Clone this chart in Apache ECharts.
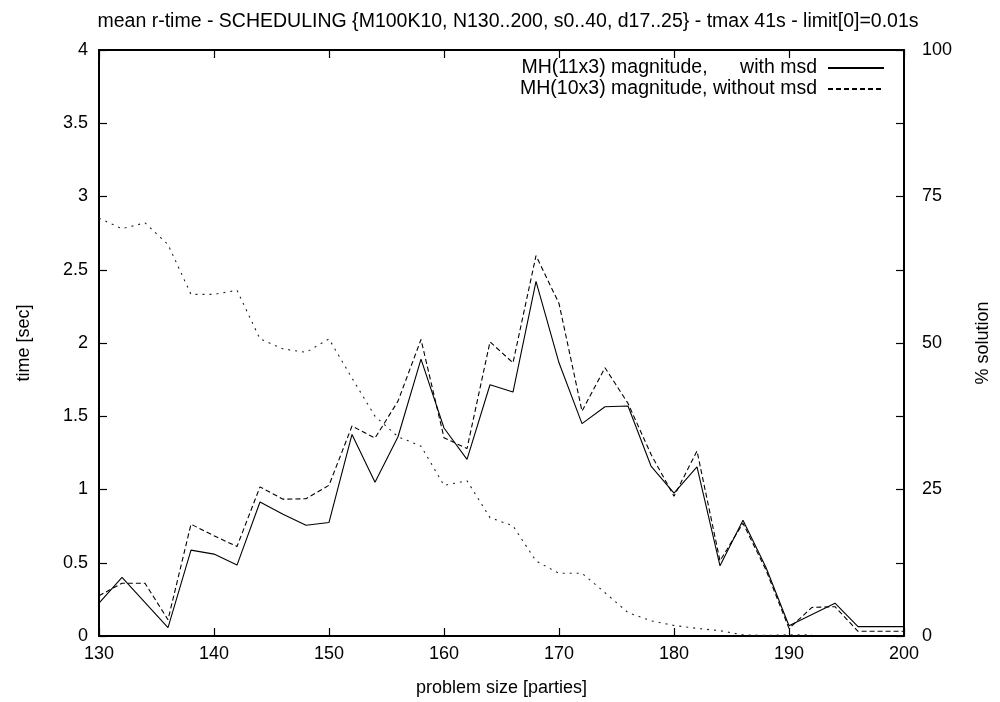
<!DOCTYPE html>
<html>
<head>
<meta charset="utf-8">
<script src="https://cdn.jsdelivr.net/npm/echarts@6/dist/echarts.min.js"></script>
<style>
  html, body { margin: 0; padding: 0; background: #fff; }
  #chart { width: 1000px; height: 702px; }
</style>
</head>
<body>
<div id="chart"></div>
<script>
// Problem sizes (parties) and mean run times for each heuristic
const sizesWithMsd = [130, 132, 136, 138, 140, 142, 144, 146, 148, 150, 152, 154, 156, 158, 160, 162, 164, 166, 168, 170, 172, 174, 176, 178, 180, 182, 184, 186, 188, 190, 194, 196, 200];
const timeWithMsd = [0.225, 0.40, 0.057, 0.586, 0.559, 0.484, 0.915, 0.831, 0.756, 0.775, 1.376, 1.05, 1.36, 1.89, 1.42, 1.206, 1.715, 1.665, 2.42, 1.865, 1.45, 1.565, 1.57, 1.16, 0.975, 1.154, 0.479, 0.79, 0.468, 0.07, 0.224, 0.064, 0.064];

const sizesWithoutMsd = [130, 132, 134, 136, 138, 140, 142, 144, 146, 148, 150, 152, 154, 156, 158, 160, 162, 164, 166, 168, 170, 172, 174, 176, 178, 180, 182, 184, 186, 188, 190, 192, 194, 196, 200];
const timeWithoutMsd = [0.275, 0.36, 0.36, 0.111, 0.763, 0.684, 0.611, 1.018, 0.934, 0.937, 1.029, 1.433, 1.351, 1.603, 2.024, 1.354, 1.279, 2.008, 1.865, 2.596, 2.27, 1.535, 1.831, 1.588, 1.24, 0.954, 1.263, 0.513, 0.77, 0.45, 0.052, 0.195, 0.2, 0.032, 0.032];

// Share of solved instances (%), right axis
const sizesSolution = [130, 132, 134, 136, 138, 140, 142, 144, 146, 148, 150, 152, 154, 156, 158, 160, 162, 164, 166, 168, 170, 172, 174, 176, 178, 180, 182, 184, 186, 188, 190, 192];
const pctSolution = [71.3, 69.5, 70.5, 66.8, 58.3, 58.3, 59.0, 50.7, 49.0, 48.4, 50.7, 44.0, 37.5, 34.0, 32.4, 25.7, 26.5, 20.2, 18.8, 12.8, 10.7, 10.7, 7.4, 4.0, 2.6, 1.8, 1.3, 0.9, 0.2, 0.1, 0.2, 0.2];

const xTicks = { min: 130, max: 200, step: 10 };
const yTicks = { min: 0, max: 4, step: 0.5 };
const y2Ticks = { min: 0, max: 100, step: 12.5, labelStep: 25 };

const labelWith = 'MH(11x3) magnitude,      with msd';
const labelWithout = 'MH(10x3) magnitude, without msd';
const titleText = 'mean r-time - SCHEDULING {M100K10, N130..200, s0..40, d17..25} - tmax 41s - limit[0]=0.01s';

const pairs = (xs, ys) => xs.map((x, i) => [x, ys[i]]);

const FONT = 'Liberation Sans, Arial, sans-serif';
const ink = '#000';
const tickStyle = { inside: true, length: 8, lineStyle: { color: ink, width: 1.2 } };
const axisLineStyle = { show: true, onZero: false, lineStyle: { color: ink, width: 2 } };
const labelFont = { color: ink, fontFamily: FONT, fontSize: 18 };

const legendCommon = {
  right: 115, orient: 'vertical', align: 'right',
  itemWidth: 56, itemHeight: 10, itemGap: 0, padding: 0,
  itemStyle: { opacity: 0 },
  textStyle: { color: ink, fontFamily: FONT, fontSize: 19.5, padding: [0, 6, 0, 0] }
};

const chart = echarts.init(document.getElementById('chart'), null, { renderer: 'canvas' });

chart.setOption({
  animation: false,
  backgroundColor: '#fff',
  title: {
    text: titleText,
    left: 503, textAlign: 'center', top: 7,
    textStyle: { color: ink, fontFamily: FONT, fontSize: 19.5, fontWeight: 'normal' }
  },
  legend: [
    Object.assign({ data: [labelWith], top: 58 }, legendCommon),
    Object.assign({ data: [labelWithout], top: 79 }, legendCommon)
  ],
  grid: { left: 99, right: 93, top: 50, bottom: 65, containLabel: false },
  xAxis: [
    {
      type: 'value', min: xTicks.min, max: xTicks.max, interval: xTicks.step,
      position: 'bottom',
      name: 'problem size [parties]', nameLocation: 'middle', nameGap: 43,
      nameTextStyle: labelFont,
      axisLine: axisLineStyle, axisTick: tickStyle,
      axisLabel: Object.assign({ margin: 9 }, labelFont),
      splitLine: { show: false }
    },
    {
      type: 'value', min: xTicks.min, max: xTicks.max, interval: xTicks.step,
      position: 'top',
      axisLine: axisLineStyle, axisTick: tickStyle,
      axisLabel: { show: false }, splitLine: { show: false }
    }
  ],
  yAxis: [
    {
      type: 'value', min: yTicks.min, max: yTicks.max, interval: yTicks.step,
      position: 'left',
      name: 'time [sec]', nameLocation: 'middle', nameGap: 66, nameRotate: 90,
      nameTextStyle: labelFont,
      axisLine: axisLineStyle, axisTick: tickStyle,
      axisLabel: Object.assign({ margin: 11 }, labelFont),
      splitLine: { show: false }
    },
    {
      type: 'value', min: y2Ticks.min, max: y2Ticks.max, interval: y2Ticks.step,
      position: 'right',
      name: '% solution', nameLocation: 'middle', nameGap: 70, nameRotate: 90,
      nameTextStyle: labelFont,
      axisLine: axisLineStyle, axisTick: tickStyle,
      axisLabel: Object.assign({
        margin: 18, align: 'left',
        formatter: v => (Math.abs(v % y2Ticks.labelStep) < 1e-9 ? String(v) : '')
      }, labelFont),
      splitLine: { show: false }
    }
  ],
  series: [
    {
      name: labelWith, type: 'line', xAxisIndex: 0, yAxisIndex: 0,
      data: pairs(sizesWithMsd, timeWithMsd),
      symbol: 'none', lineStyle: { color: ink, width: 1.1, type: 'solid' },
      itemStyle: { color: ink }
    },
    {
      name: labelWithout, type: 'line', xAxisIndex: 0, yAxisIndex: 0,
      data: pairs(sizesWithoutMsd, timeWithoutMsd),
      symbol: 'none', lineStyle: { color: ink, width: 1.1, type: [5, 3] },
      itemStyle: { color: ink }
    },
    {
      name: '% solution', type: 'line', xAxisIndex: 0, yAxisIndex: 1,
      data: pairs(sizesSolution, pctSolution),
      symbol: 'none', lineStyle: { color: '#222', width: 1.1, type: [2, 5] },
      itemStyle: { color: ink }
    }
  ]
});
</script>
</body>
</html>
